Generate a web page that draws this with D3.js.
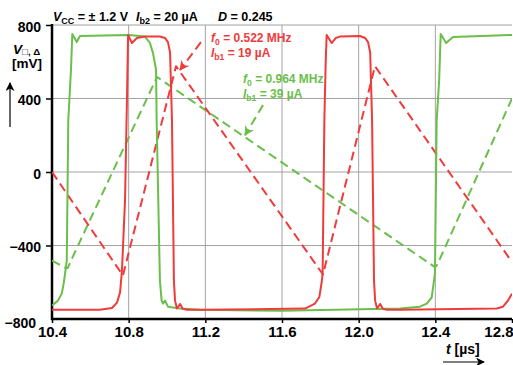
<!DOCTYPE html>
<html>
<head>
<meta charset="utf-8">
<script src="https://cdn.jsdelivr.net/npm/d3@7"></script>
<style>
  body { margin: 0; background: #fff; }
  svg { display: block; font-family: "Liberation Sans", Arial, sans-serif; font-weight: bold; }
</style>
</head>
<body>
<svg id="chart" width="513" height="365"></svg>
<script>
// axis ticks
const xTicks = [10.4, 10.8, 11.2, 11.6, 12.0, 12.4, 12.8];
const yTicks = [800, 400, 0, -400, -800];

// square waves [t (µs), V (mV)]
const redSquare = [
  [10.40, -750], [10.65, -750], [10.713, -740], [10.739, -711], [10.755, -656],
  [10.765, -536], [10.781, -154], [10.791, 391], [10.797, 746], [10.817, 702],
  [10.843, 729], [10.885, 737], [10.963, 737], [10.990, 729], [11.005, 707],
  [11.016, 650], [11.026, 282], [11.031, -154], [11.036, -591], [11.042, -700],
  [11.052, -743], [11.068, -718], [11.083, -745], [11.104, -750], [11.172, -750],
  [11.720, -743], [11.772, -716], [11.795, -680], [11.807, -600], [11.812, -553],
  [11.821, 282], [11.828, 600], [11.833, 746], [11.859, 702], [11.880, 729],
  [11.903, 737], [12.007, 740], [12.034, 729], [12.049, 707], [12.060, 650],
  [12.070, 282], [12.075, -154], [12.080, -591], [12.086, -700], [12.096, -743],
  [12.112, -718], [12.127, -745], [12.148, -750], [12.216, -750], [12.720, -743],
  [12.753, -733], [12.779, -700], [12.800, -662]
];
const greenSquare = [
  [10.40, -727], [10.431, -700], [10.451, -662], [10.462, -600], [10.477, -482],
  [10.485, 282], [10.499, 555], [10.506, 751], [10.529, 707], [10.546, 740],
  [10.80, 746], [10.885, 737], [10.911, 702], [10.927, 647], [10.943, 555],
  [10.946, 282], [10.963, -591], [10.972, -700], [10.979, -716], [10.990, -700],
  [11.005, -733], [11.068, -743], [11.172, -750], [11.60, -755], [12.216, -743],
  [12.320, -733], [12.355, -716], [12.381, -683], [12.388, -629], [12.398, -553],
  [12.407, 282], [12.420, 500], [12.428, 751], [12.456, 702], [12.492, 735],
  [12.800, 746]
];

// triangle waves (dashed)
const redTriangle = [
  [10.40, 0], [10.770, -563], [11.047, 576], [11.814, -558], [12.085, 576], [12.80, -490]
];
const greenTriangle = [
  [10.40, -482], [10.465, -520], [10.482, -523], [10.500, -480], [10.948, 517],
  [12.398, -518], [12.410, -505], [12.80, 400]
];

// annotation pointers [from, to]
const redPointer = [[11.177, 707], [11.068, 555]];
const greenPointer = [[11.501, 364], [11.407, 200]];

const red = "#ef3b3b";
const green = "#6abf4b";

const svg = d3.select("#chart");
const margin = { top: 25, right: 1, bottom: 46, left: 52 };
const width = 513, height = 365;

const x = d3.scaleLinear().domain([10.4, 12.8]).range([margin.left, width - margin.right]);
const y = d3.scaleLinear().domain([-800, 800]).range([height - margin.bottom, margin.top]);

const defs = svg.append("defs");
defs.append("clipPath").attr("id", "plot")
  .append("rect")
  .attr("x", x(10.4)).attr("y", y(800))
  .attr("width", x(12.8) - x(10.4)).attr("height", y(-800) - y(800));

function arrowMarker(id, color, size) {
  defs.append("marker")
    .attr("id", id)
    .attr("viewBox", "0 0 10 10")
    .attr("refX", 9).attr("refY", 5)
    .attr("markerWidth", size).attr("markerHeight", size)
    .attr("markerUnits", "userSpaceOnUse")
    .attr("orient", "auto")
    .append("path")
    .attr("d", "M0,0 L10,5 L0,10 L3,5 Z")
    .attr("fill", color);
}
arrowMarker("arBlack", "#000", 9);
arrowMarker("arRed", red, 10);
arrowMarker("arGreen", green, 10);

// grid
const grid = svg.append("g").attr("stroke", "#a3a3a3").attr("stroke-width", 1);
grid.selectAll(".gx").data(xTicks.slice(1, -1)).join("line")
  .attr("x1", d => x(d)).attr("x2", d => x(d))
  .attr("y1", y(800)).attr("y2", y(-800));
grid.selectAll(".gy").data(yTicks.slice(0, -1)).join("line")
  .attr("x1", x(10.4)).attr("x2", x(12.8))
  .attr("y1", d => y(d)).attr("y2", d => y(d));

// axes
const xAxis = d3.axisBottom(x).tickValues(xTicks).tickSize(4).tickFormat(d3.format(".1f"));
const yAxis = d3.axisLeft(y).tickValues(yTicks).tickSize(6).tickFormat(d3.format("d"));

const gx = svg.append("g").attr("transform", `translate(0,${y(-800)})`).call(xAxis);
gx.select(".domain").remove();
gx.selectAll(".tick line").attr("stroke", "#000").attr("stroke-width", 1.5);
gx.selectAll(".tick text")
  .attr("font-size", 15).attr("font-family", "Liberation Sans, Arial, sans-serif")
  .attr("font-weight", "bold").attr("fill", "#000").attr("dy", "0.7em");
gx.selectAll(".tick").filter(d => d === 12.8).select("text")
  .attr("text-anchor", "end").attr("x", 1);

const gy = svg.append("g").attr("transform", `translate(${x(10.4)},0)`).call(yAxis);
gy.select(".domain").remove();
gy.selectAll(".tick line").attr("stroke", "#000").attr("stroke-width", 1.5);
gy.selectAll(".tick").filter(d => d === -800).select("line").remove();
gy.selectAll(".tick text")
  .attr("font-size", 14).attr("font-family", "Liberation Sans, Arial, sans-serif")
  .attr("font-weight", "bold").attr("fill", "#000").attr("x", -11).attr("dy", "0.45em");
gy.selectAll(".tick").filter(d => d === -800).select("text").attr("x", -16).attr("dy", "0.6em");

// axis lines
svg.append("line")
  .attr("x1", x(10.4)).attr("x2", x(10.4)).attr("y1", y(800) - 1).attr("y2", y(-800) + 1)
  .attr("stroke", "#000").attr("stroke-width", 2.5);
svg.append("line")
  .attr("x1", x(10.4) - 1).attr("x2", x(12.8)).attr("y1", y(-800)).attr("y2", y(-800))
  .attr("stroke", "#000").attr("stroke-width", 2.5);

// curves
const line = d3.line().x(d => x(d[0])).y(d => y(d[1]));
const plot = svg.append("g").attr("clip-path", "url(#plot)")
  .attr("fill", "none").attr("stroke-linejoin", "round");

plot.append("path").datum(greenTriangle).attr("d", line)
  .attr("stroke", green).attr("stroke-width", 2).attr("stroke-dasharray", "9,5");
plot.append("path").datum(redTriangle).attr("d", line)
  .attr("stroke", red).attr("stroke-width", 2).attr("stroke-dasharray", "9,5");
plot.append("path").datum(greenSquare).attr("d", line)
  .attr("stroke", green).attr("stroke-width", 2);
plot.append("path").datum(redSquare).attr("d", line)
  .attr("stroke", red).attr("stroke-width", 2);

// pointers
svg.append("path").datum(redPointer).attr("d", line)
  .attr("fill", "none").attr("stroke", red).attr("stroke-width", 2)
  .attr("stroke-dasharray", "9,5").attr("marker-end", "url(#arRed)");
svg.append("path").datum(greenPointer).attr("d", line)
  .attr("fill", "none").attr("stroke", green).attr("stroke-width", 2)
  .attr("stroke-dasharray", "9,5").attr("marker-end", "url(#arGreen)");

// text helpers
function label(xp, yp, color, size, parts) {
  const t = svg.append("text").attr("x", xp).attr("y", yp)
    .attr("fill", color).attr("font-size", size);
  parts.forEach(p => {
    const s = t.append("tspan").text(p.text);
    if (p.italic) s.attr("font-style", "italic");
    if (p.sub) s.attr("font-size", size * 0.72).attr("dy", p.sub);
    if (p.up) s.attr("dy", -p.up);
  });
  return t;
}

// header
label(53, 21, "#000", 12.5, [
  { text: "V", italic: true }, { text: "CC", sub: 3 }, { text: " = ± 1.2 V", up: 3 }
]);
label(136, 21, "#000", 12.5, [
  { text: "I", italic: true }, { text: "b2", sub: 3 }, { text: " = 20 µA", up: 3 }
]);
label(218, 21, "#000", 12.5, [
  { text: "D", italic: true }, { text: " = 0.245" }
]);

// series labels
label(211, 42, red, 12, [
  { text: "f", italic: true }, { text: "0", sub: 3 }, { text: " = 0.522 MHz", up: 3 }
]);
label(211, 57, red, 12, [
  { text: "I", italic: true }, { text: "b1", sub: 3 }, { text: " = 19 µA", up: 3 }
]);
label(243, 83, green, 12, [
  { text: "f", italic: true }, { text: "0", sub: 3 }, { text: " = 0.964 MHz", up: 3 }
]);
label(243, 98, green, 12, [
  { text: "I", italic: true }, { text: "b1", sub: 3 }, { text: " = 39 µA", up: 3 }
]);

// y axis title
label(13, 54, "#000", 13.5, [
  { text: "V", italic: true }, { text: "□, Δ", sub: 1 }
]);
svg.append("text").attr("x", 12).attr("y", 68).attr("font-size", 13.5).text("[mV]");
svg.append("line").attr("x1", 10).attr("x2", 10).attr("y1", 127).attr("y2", 83)
  .attr("stroke", "#000").attr("stroke-width", 1.2).attr("marker-end", "url(#arBlack)");

// x axis title
label(446, 354, "#000", 14, [
  { text: "t", italic: true }, { text: " [µs]" }
]);
svg.append("line").attr("x1", 443).attr("x2", 484).attr("y1", 362).attr("y2", 362)
  .attr("stroke", "#000").attr("stroke-width", 1.2).attr("marker-end", "url(#arBlack)");
</script>
</body>
</html>
